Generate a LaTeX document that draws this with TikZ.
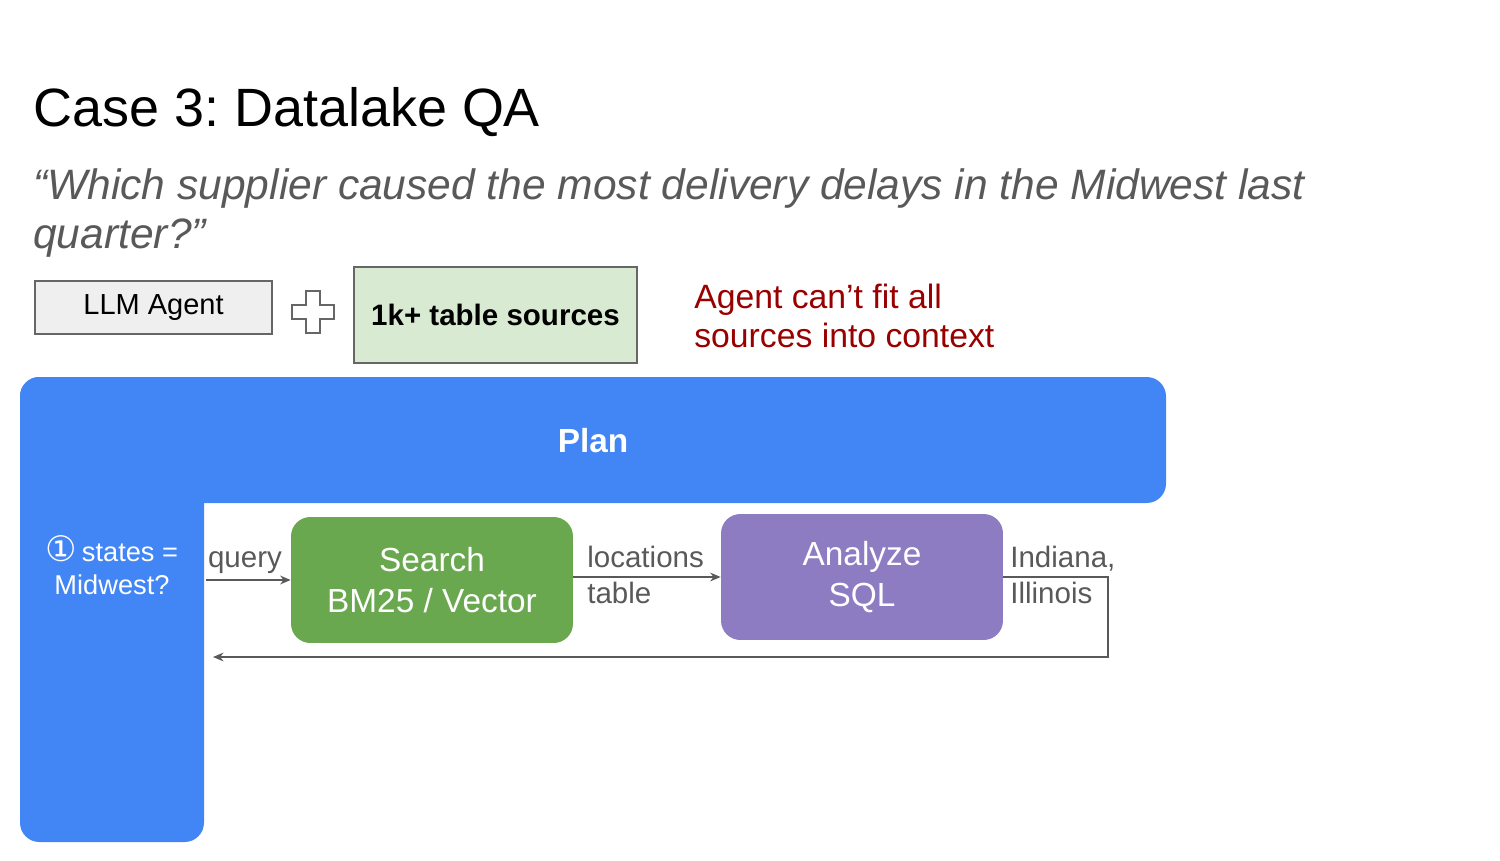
\documentclass[tikz,border=0pt]{standalone}
\usepackage{fontspec}
\setmainfont{Liberation Sans}
\newfontfamily\dejavu{DejaVu Sans}
\usetikzlibrary{arrows.meta,positioning}

\definecolor{planblue}{HTML}{4285F4}
\definecolor{searchgreen}{HTML}{6AA84F}
\definecolor{sqlpurple}{HTML}{8E7CC3}
\definecolor{srcgreen}{HTML}{D9EAD3}
\definecolor{agentgray}{HTML}{EFEFEF}
\definecolor{txtgray}{HTML}{595959}
\definecolor{warnred}{HTML}{990000}

\begin{document}
\frenchspacing
\begin{tikzpicture}[x=0.02cm,y=-0.02cm,
    box/.style={draw=black!60, line width=0.7pt, inner sep=0pt, align=center},
    tool/.style={rounded corners=11pt, inner sep=0pt, text=white, align=center,
      minimum width=5.64cm, minimum height=2.52cm, font=\fontsize{19}{23.8}\selectfont},
    lbl/.style={text=txtgray, inner sep=0pt, anchor=base west, font=\fontsize{16.8}{20}\selectfont},
    edge/.style={draw=txtgray, line width=0.7pt, -{Stealth[length=6pt,width=5pt]}}]
  \useasboundingbox (0,0) rectangle (1500,861);

  % heading
  \node[anchor=base west, inner sep=0pt, font=\fontsize{30.7}{36}\selectfont] (title) at (33,127) {Case 3: Datalake QA};
  \node[anchor=west, inner sep=0pt, align=left, text=txtgray,
    font=\fontsize{24.2}{28.3}\selectfont\itshape] (question) at (33,213)
    {“Which supplier caused the most delivery delays in the Midwest last\\quarter?”};

  % agent + sources
  \node[box, fill=agentgray, minimum width=4.74cm, minimum height=1.06cm,
    font=\fontsize{16.5}{20}\selectfont] (agent) at (153.5,307.5) {LLM Agent};
  \draw[draw=black!60, line width=0.7pt, fill=white, shift={(313,312)}]
    (-7,-21) -- (7,-21) -- (7,-7) -- (21,-7) -- (21,7) -- (7,7) -- (7,21)
    -- (-7,21) -- (-7,7) -- (-21,7) -- (-21,-7) -- (-7,-7) -- cycle;
  \node[box, fill=srcgreen, minimum width=5.66cm, minimum height=1.92cm,
    font=\fontsize{16.8}{20}\selectfont\bfseries] (sources) at (495.5,315) {1k+ table sources};
  \node[anchor=west, inner sep=0pt, align=left, text=warnred,
    font=\fontsize{19.2}{22.7}\selectfont] (warn) at (694,316)
    {Agent can’t fit all\\sources into context};

  % plan
  \fill[planblue, rounded corners=11pt] (20,377) rectangle (1166,503);
  \fill[planblue, rounded corners=11pt] (20,377) rectangle (204,842);
  \node[text=white, font=\fontsize{19}{23}\selectfont\bfseries] (plan) at (593,441) {Plan};
  \node[text=white, align=center, inner sep=0pt, font=\fontsize{15.5}{18.7}\selectfont] (step1) at (112,565)
    {{\dejavu\fontsize{20}{18.7}\selectfont ①}\,states =\\Midwest?};

  % tools
  \node[tool, fill=searchgreen] (search) at (432,580) {Search\\BM25 / Vector};
  \node[tool, fill=sqlpurple] (sql) at (862,577) {Analyze\\SQL};

  \coordinate (qin) at (206,580);
  \coordinate (turn) at (1108,657);
  \coordinate (ret) at (213,657);

  \draw[edge] (qin) -- (search.west);
  \draw[edge] (search.east |- sql.west) -- (sql.west);
  \draw[edge] (sql.east) -| (turn) -- (ret);

  \node[lbl, anchor=base] (q) at (245,567) {query};
  \node[lbl] (loc1) at (587,567) {locations};
  \node[lbl] (loc2) at (587,603) {table};
  \node[lbl] (res1) at (1010,567) {Indiana,};
  \node[lbl] (res2) at (1010,603) {Illinois};
\end{tikzpicture}
\end{document}
